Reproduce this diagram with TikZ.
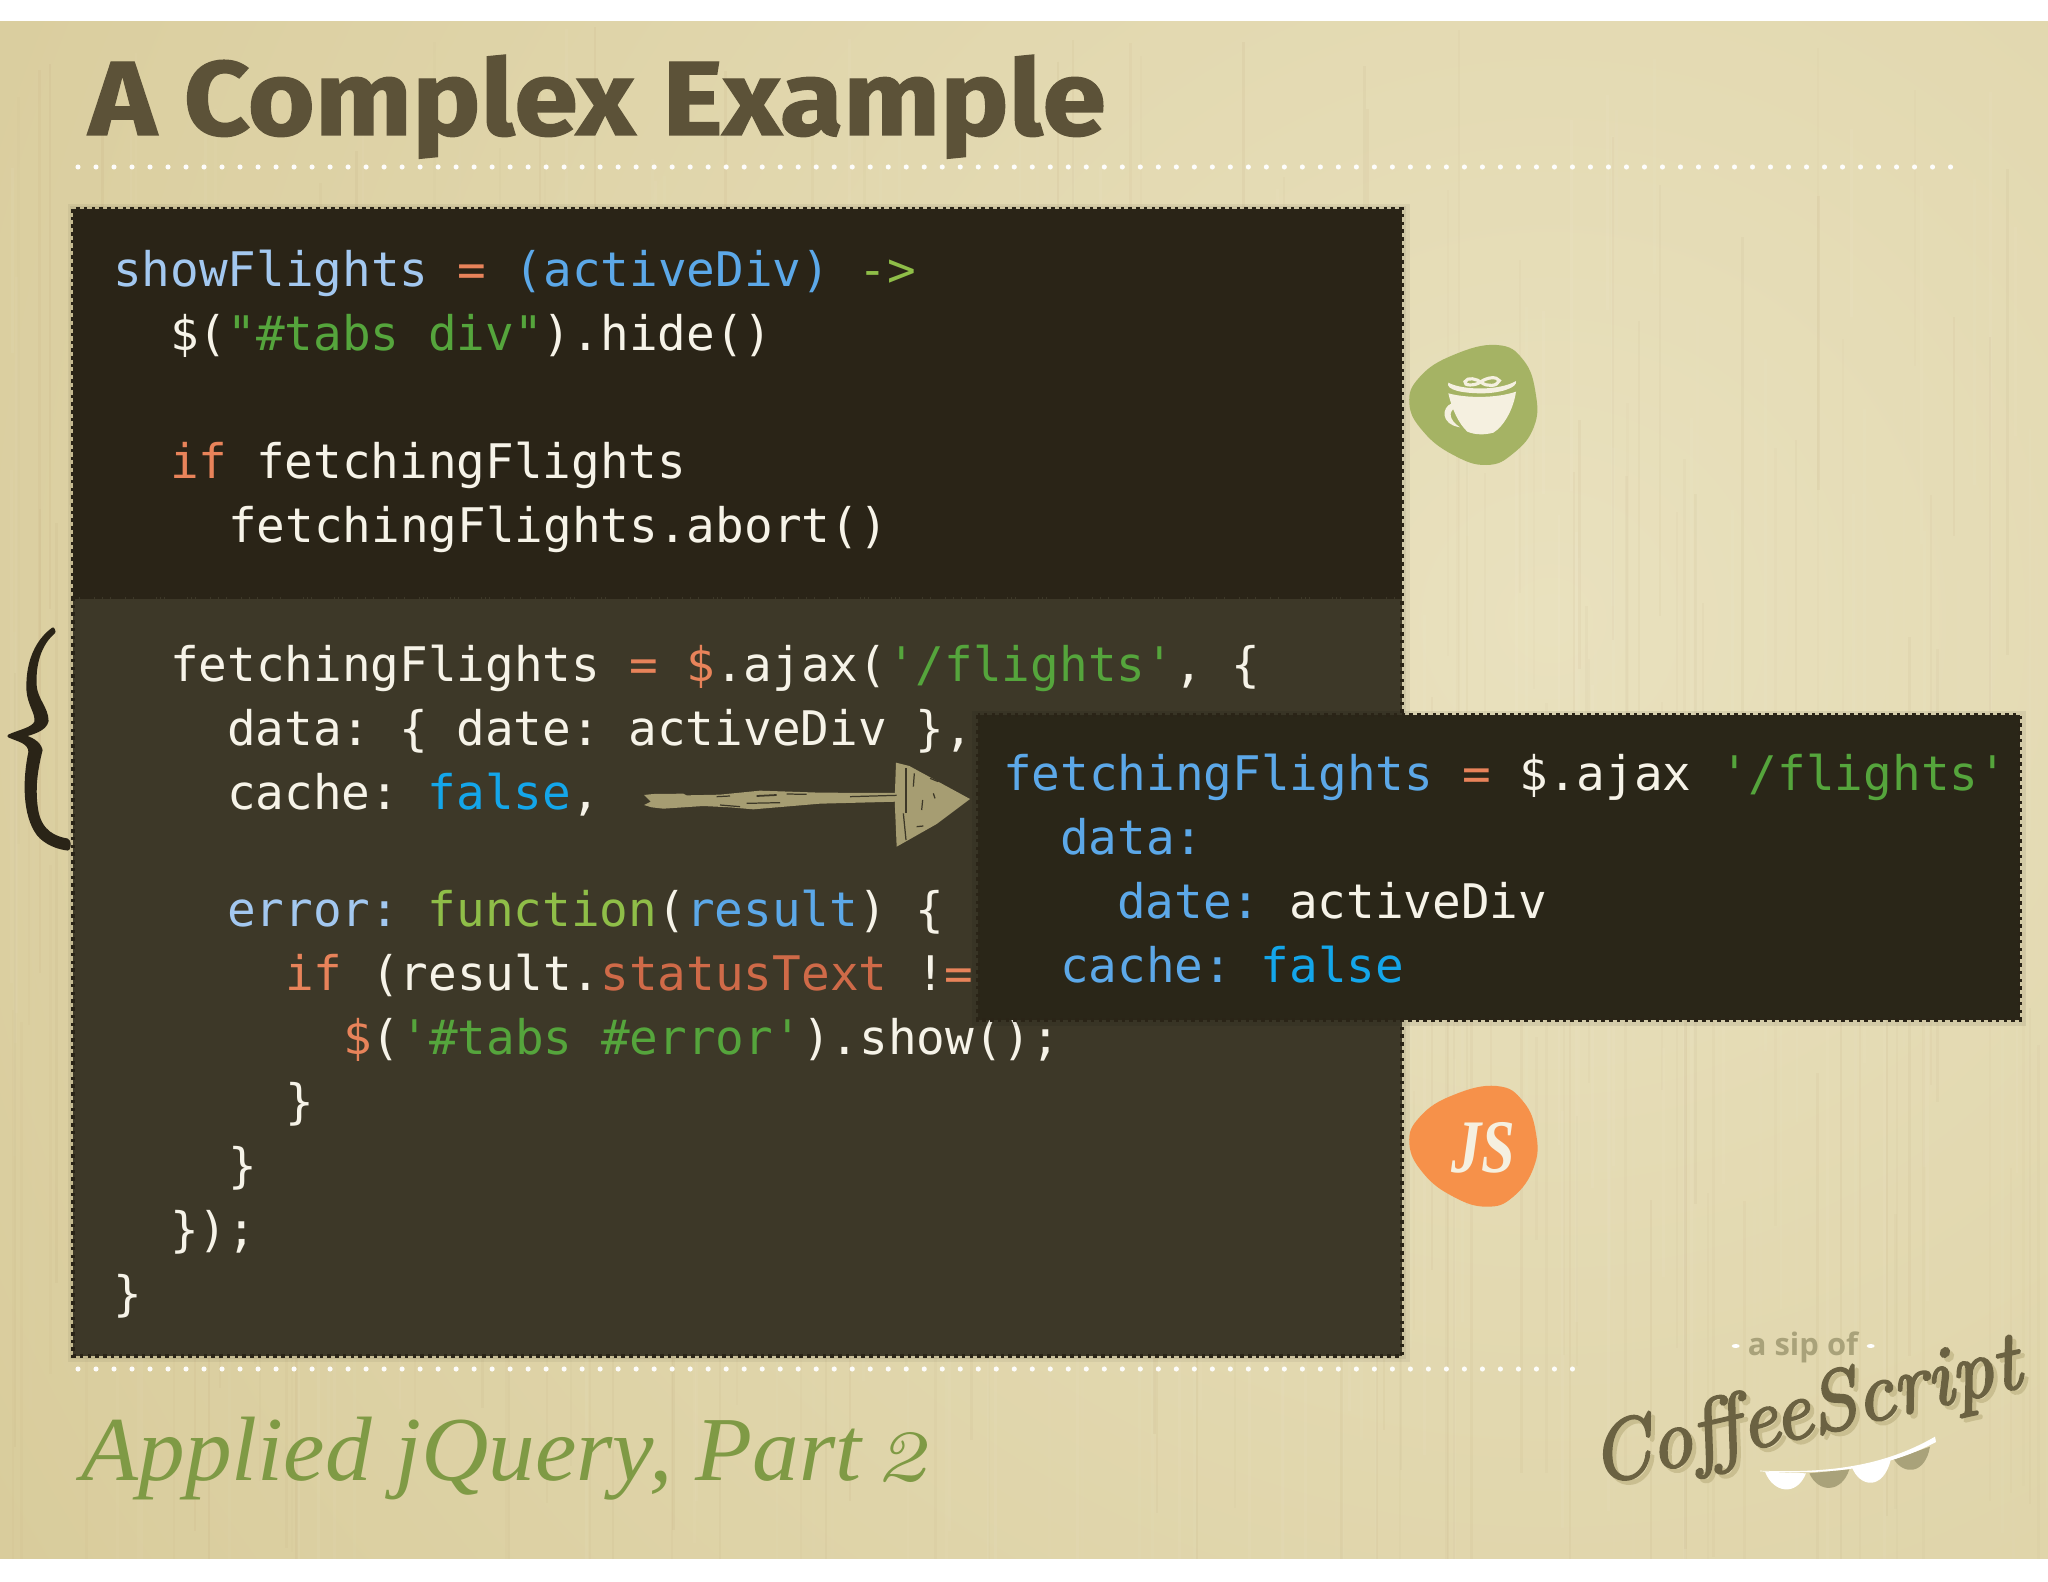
\documentclass[tikz,border=0pt]{standalone}
\usepackage{fontspec}
\usepackage{graphicx}
\usetikzlibrary{calc}
\newfontfamily\codef{DejaVu Sans Mono}
\newfontfamily\titlef{Fira Sans}[BoldFeatures={FakeBold=1.2}]
\newfontfamily\subf{Liberation Serif}
\newfontfamily\oldf[Numbers=OldStyle]{Latin Modern Roman}
\newfontfamily\logof{Latin Modern Roman}[ItalicFeatures={FakeBold=2.8}]
\newfontfamily\sipf{Open Sans}
\definecolor{cW}{HTML}{F6F3E8}
\definecolor{cPale}{HTML}{A3C8F0}
\definecolor{cBlue}{HTML}{5CA8E8}
\definecolor{cSky}{HTML}{14A6EA}
\definecolor{cOr}{HTML}{E8835A}
\definecolor{cRed}{HTML}{CF6A48}
\definecolor{cGr}{HTML}{55A53C}
\definecolor{cLime}{HTML}{8FBE48}
\definecolor{cDark}{HTML}{2A2417}
\definecolor{cLow}{HTML}{3D3828}
\definecolor{cPop}{HTML}{2A2618}
\definecolor{cChalk}{HTML}{A69D72}
\definecolor{cTitle}{HTML}{5C5238}
\definecolor{cSub}{HTML}{7F9A45}
\definecolor{cLogo}{HTML}{6B6242}
\definecolor{cLogoS}{HTML}{C9BE90}
\definecolor{cSip}{HTML}{A9A27A}
\definecolor{cCup}{HTML}{A5B364}
\definecolor{cJs}{HTML}{F6914A}
\definecolor{cCream}{HTML}{F5F0E0}
\definecolor{bgIn}{HTML}{E9E1BE}
\definecolor{bgOut}{HTML}{D8CB9A}
\tikzset{
  x=0.01cm,y=-0.01cm,
  code/.style={font=\codef\frenchspacing\fontsize{13.55}{16}\selectfont,text=cW,anchor=base west,inner sep=0pt,outer sep=0pt,yshift=0.7pt},
  dotrow/.style={draw=white,opacity=.95,line width=1.45pt,line cap=round,dash pattern=on 0pt off 5.12pt},
  edge dots/.style={draw=cDark,line width=0.9pt,dash pattern=on 1pt off 1.2pt},
  chalkfleck/.style={draw=cLow,line width=0.35pt},
}
\newcommand{\cc}[2]{\textcolor{#1}{#2}}
\begin{document}
\begin{tikzpicture}
\useasboundingbox (0,0) rectangle (2048,1582);
\fill[white] (0,0) rectangle (2048,1582);
\begin{scope}
\clip (0,22) rectangle (2048,1558);
\shade[shading=radial,inner color=bgIn,outer color=bgOut] (1550-1900,620-1900) rectangle (1550+1900,620+1900);
\pgfmathsetseed{42}
\foreach \i in {1,...,420}{
  \pgfmathsetmacro\xx{rnd*2048}
  \pgfmathsetmacro\yy{22+rnd*1200}
  \pgfmathsetmacro\ll{150+rnd*700}
  \pgfmathsetmacro\oo{0.015+rnd*0.035}
  \pgfmathtruncatemacro\pick{mod(\i,2)}
  \ifnum\pick=0
    \draw[white,opacity=\oo,line width=0.8pt] (\xx,\yy) -- ++(0,\ll);
  \else
    \draw[brown!70!black,opacity=\oo,line width=0.7pt] (\xx,\yy) -- ++(0,\ll);
  \fi
}
\end{scope}
% title
\node[anchor=base west,inner sep=0pt,text=cTitle,font=\titlef\bfseries\fontsize{30}{34}\selectfont] (title) at (88,135) {\scalebox{1.09}[1]{A Complex Example}};
\coordinate (dA1) at (78,167); \coordinate (dA2) at (1957,167);
\draw[dotrow] (dA1) -- (dA2);
\coordinate (dB1) at (78,1369); \coordinate (dB2) at (1574,1369);
\draw[dotrow] (dB1) -- (dB2);
% panel
\fill[black,opacity=.05] (68,204) rectangle (1410,1362);
\fill[black,opacity=.05] (70,206) rectangle (1406,1359);
\fill[cLow] (73,597) rectangle (1402,1356);
\fill[cDark] (73,209) rectangle (1402,597);
\draw[edge dots] (73,597) rectangle (1402,1356);
\draw[edge dots] (73,209) rectangle (1402,597);
% upper code
\node[code] (u1) at (113,289) {\cc{cPale}{showFlights} \cc{cOr}{=} \cc{cBlue}{(activeDiv)} \cc{cLime}{->}};
\node[code] (u2) at (170,353) {\$(\cc{cGr}{"\#tabs div"}).hide()};
\node[code] (u3) at (170,481) {\cc{cOr}{if} fetchingFlights};
\node[code] (u4) at (228,545) {fetchingFlights.abort()};
% lower code
\node[code] (l1) at (170,684) {fetchingFlights \cc{cOr}{=} \cc{cOr}{\$}.ajax(\cc{cGr}{'/flights'}, \{};
\node[code] (l2) at (227,748) {data: \{ date: activeDiv \},};
\node[code] (l3) at (227,812) {cache: \cc{cSky}{false},};
\node[code] (l4) at (227,929) {\cc{cPale}{error:} \cc{cLime}{function}(\cc{cBlue}{result}) \{};
\node[code] (l5) at (285,993) {\cc{cOr}{if} (result.\cc{cRed}{statusText} !\cc{cOr}{=}};
\node[code] (l6) at (343,1057) {\cc{cOr}{\$}(\cc{cGr}{'\#tabs \#error'}).show();};
\node[code] (l7) at (285,1121) {\}};
\node[code] (l8) at (228,1185) {\}};
\node[code] (l9) at (170,1249) {\});};
\node[code] (l10) at (113,1313) {\}};
% popup
\fill[black,opacity=.07] (972,711) rectangle (2026,1026);
\fill[cPop] (978,715) rectangle (2020,1020);
\draw[edge dots] (978,715) rectangle (2020,1020);
\node[code] (p1) at (1003,793) {\cc{cBlue}{fetchingFlights} \cc{cOr}{=} \$.ajax \cc{cGr}{'/flights'}};
\node[code] (p2) at (1060,857) {\cc{cBlue}{data:}};
\node[code] (p3) at (1117,921) {\cc{cBlue}{date:} activeDiv};
\node[code] (p4) at (1060,985) {\cc{cBlue}{cache:} \cc{cSky}{false}};
% arrow
\begin{scope}[shift={(620,700)},x=0.01cm/3,y=-0.01cm/3]
\fill[cChalk] (72,285) -- (100,282) -- (190,281) -- (200,286) -- (300,284) -- (420,272) -- (600,278) -- (830,279) -- (830,305) -- (600,311) -- (400,328) -- (330,322) -- (250,318) -- (130,326) -- (95,322) -- (72,315) -- (92,305) -- cycle;
\fill[cChalk] (828,188) -- (868,198) -- (1050,297) -- (950,372) -- (830,440) -- (824,300) -- cycle;
\draw[chalkfleck,line width=0.6pt] (858,205) -- (858,340);
\draw[chalkfleck] (850,340) -- (858,420);
\draw[chalkfleck] (883,220) -- (880,260);
\draw[chalkfleck] (908,300) -- (905,330);
\draw[chalkfleck] (930,235) -- (955,245);
\draw[chalkfleck,line width=0.5pt] (410,288) -- (470,285);
\draw[chalkfleck] (690,290) -- (830,286);
\draw[chalkfleck] (380,310) -- (480,308);
\draw[chalkfleck] (500,282) -- (560,283);
\draw[chalkfleck] (290,290) -- (330,288);
\draw[chalkfleck] (300,315) -- (360,320);
\draw[chalkfleck] (940,280) -- (945,295);
\draw[chalkfleck] (890,380) -- (910,378);
\end{scope}
% brace
\fill[cDark,draw=cDark,line width=0.9pt,line join=round] (53,629) .. controls (38,640) and (27,660) .. (28,690)
  .. controls (29,705) and (37,712) .. (36,722)
  .. controls (33,729) and (20,731) .. (9,736)
  .. controls (18,740) and (30,742) .. (30,752)
  .. controls (24,780) and (24,815) .. (38,834)
  .. controls (45,843) and (58,848) .. (68,849)
  .. controls (70,845) and (69,841) .. (67,840)
  .. controls (55,838) and (41,832) .. (37,812)
  .. controls (33,790) and (36,770) .. (41,750)
  .. controls (39,742) and (30,738) .. (22,736)
  .. controls (32,733) and (45,730) .. (47,721)
  .. controls (47,708) and (36,700) .. (35,685)
  .. controls (34,660) and (42,642) .. (54,632) -- cycle;
% cup badge
\begin{scope}[shift={(1380,320)},x=0.01cm/3,y=-0.01cm/3]
\fill[cCup] plot[smooth cycle,tension=.75] coordinates {(350,75) (430,120) (467,220) (462,320) (400,400) (320,435) (220,405) (130,335) (88,250) (120,170) (220,105)};
\fill[cCream] (205,188) .. controls (250,212) and (360,212) .. (408,183) .. controls (414,203) and (360,220) .. (305,220) .. controls (250,220) and (195,210) .. (205,188) -- cycle;
\fill[cCream] (205,220) .. controls (260,235) and (350,235) .. (408,215) .. controls (400,270) and (370,320) .. (340,338) .. controls (315,345) and (285,345) .. (262,335) .. controls (235,310) and (215,265) .. (205,220) -- cycle;
\fill[cCream] (215,250) .. controls (185,262) and (180,312) .. (240,322) .. controls (207,300) and (205,275) .. (224,265) -- cycle;
\draw[cCream,line width=0.9pt] (255,185) .. controls (262,170) and (290,176) .. (305,188) .. controls (320,200) and (352,200) .. (358,182) .. controls (350,168) and (320,172) .. (302,186) .. controls (285,198) and (250,198) .. (255,185) -- cycle;
\end{scope}
% js badge
\begin{scope}[shift={(1380,1060)},x=0.01cm/3,y=-0.01cm/3]
\fill[cJs] plot[smooth cycle,tension=.75] coordinates {(350,78) (430,125) (468,220) (462,320) (400,410) (320,440) (220,410) (130,340) (88,250) (120,170) (220,105)};
\end{scope}
\node[anchor=base,inner sep=0pt,text=cCream,font=\subf\bfseries\itshape\fontsize{21.5}{24}\selectfont] (js) at (1483,1172) {\scalebox{0.8}[1]{JS}};
% subtitle
\node[anchor=base west,inner sep=0pt,text=cSub,font=\subf\itshape\fontsize{26}{30}\selectfont] (sub) at (81,1480) {\scalebox{1.02}[1]{Applied jQuery, Part {\oldf\itshape\hspace{-0.1em}\fontsize{29}{30}\selectfont 2}}};
% logo
\node[anchor=center,inner sep=0pt,text=cSip,font=\sipf\bfseries\fontsize{8.8}{10}\selectfont] (sip) at (1803,1347) {a sip of};
\begin{scope}[shift={(1560,1310)},x=0.01cm/3,y=-0.01cm/3]
\fill[white] (527,108) ellipse (12 and 6);
\fill[white] (932,108) ellipse (12 and 6);
\fill[white] (615,485) .. controls (640,550) and (710,560) .. (738,490) -- cycle;
\fill[cSip] (748,490) .. controls (775,550) and (845,550) .. (868,478) -- cycle;
\fill[white] (875,470) .. controls (900,535) and (970,540) .. (992,450) -- cycle;
\fill[cSip] (1002,448) .. controls (1030,495) and (1095,495) .. (1110,410) -- cycle;
\fill[white] (600,482) .. controls (800,490) and (970,470) .. (1125,380) -- (1128,396) .. controls (970,480) and (800,494) .. (600,484) -- cycle;
\end{scope}
\node[anchor=center,inner sep=0pt,text=cLogoS,rotate=13,font=\logof\itshape\fontsize{24}{30}\selectfont] (logoS) at (1810,1419) {CoffeeScript};
\node[anchor=center,inner sep=0pt,text=cLogo,rotate=13,font=\logof\itshape\fontsize{24}{30}\selectfont] (logo) at (1806,1415) {CoffeeScript};
\end{tikzpicture}
\end{document}
